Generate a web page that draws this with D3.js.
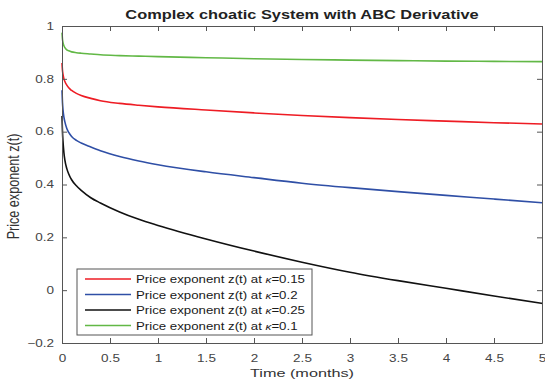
<!DOCTYPE html>
<html>
<head>
<meta charset="utf-8">
<script src="https://cdn.jsdelivr.net/npm/d3@7"></script>
<style>
  body { margin: 0; background: #fff; }
  text { font-family: "Liberation Sans", Arial, sans-serif; }
</style>
</head>
<body>
<svg id="viz" width="545" height="387"></svg>
<script>
// values
var times  = [0, 0.005, 0.01, 0.02, 0.03, 0.05, 0.07, 0.1, 0.15, 0.2, 0.3, 0.4, 0.6, 0.8, 1, 1.5, 2, 2.5, 3, 3.5, 4, 4.5, 5];
var zRed   = [0.86, 0.832, 0.818, 0.80, 0.79, 0.776, 0.766, 0.756, 0.745, 0.737, 0.726, 0.717, 0.707, 0.700, 0.694, 0.682, 0.671, 0.661, 0.653, 0.646, 0.640, 0.634, 0.629];
var zBlue  = [0.757, 0.71, 0.685, 0.655, 0.637, 0.612, 0.597, 0.582, 0.567, 0.557, 0.542, 0.528, 0.506, 0.489, 0.475, 0.448, 0.426, 0.405, 0.388, 0.373, 0.359, 0.345, 0.331];
var zBlack = [0.659, 0.60, 0.565, 0.52, 0.492, 0.46, 0.44, 0.418, 0.395, 0.378, 0.35, 0.33, 0.296, 0.268, 0.245, 0.194, 0.148, 0.106, 0.068, 0.036, 0.007, -0.022, -0.05];
var zGreen = [0.975, 0.95, 0.938, 0.925, 0.918, 0.910, 0.906, 0.902, 0.899, 0.897, 0.894, 0.891, 0.888, 0.886, 0.884, 0.880, 0.876, 0.873, 0.871, 0.869, 0.867, 0.866, 0.865];
var kappas = ["0.15", "0.2", "0.25", "0.1"];
var colors = ["#ee1c24", "#2f4fa6", "#111111", "#62b846"];
var xTicks = [0, 0.5, 1, 1.5, 2, 2.5, 3, 3.5, 4, 4.5, 5];
var yTicks = [-0.2, 0, 0.2, 0.4, 0.6, 0.8, 1];

var series = [zRed, zBlue, zBlack, zGreen].map((vals, i) => ({
  kappa: kappas[i],
  color: colors[i],
  pts: vals.map((v, j) => [times[j], v])
}));

// plot box (avoid "top", it is window.top)
var pLeft = 62, pRight = 542, pTop = 26, pBottom = 343;
var x = d3.scaleLinear().domain([0, 5]).range([pLeft, pRight]);
var y = d3.scaleLinear().domain([-0.2, 1]).range([pBottom, pTop]);

var svg = d3.select("#viz");
var axisColor = "#555";
var stretch = 1.3; // the reference looks widened horizontally

// widen text glyphs like the reference
function widen(sel, k) {
  sel.each(function () {
    var w = this.getComputedTextLength();
    d3.select(this).attr("textLength", w * (k || stretch)).attr("lengthAdjust", "spacingAndGlyphs");
  });
}

// curves
var line = d3.line().x(d => x(d[0])).y(d => y(d[1])).curve(d3.curveMonotoneX);
svg.append("g").selectAll("path")
  .data(series)
  .join("path")
  .attr("fill", "none")
  .attr("stroke", d => d.color)
  .attr("stroke-width", 1.6)
  .attr("d", d => line(d.pts));

// axes with inward ticks on all four sides
function styleAxis(g) {
  g.selectAll("path").attr("stroke", axisColor);
  g.selectAll("line").attr("stroke", axisColor);
  g.selectAll("text").attr("fill", "#444").style("font-size", "10.4px");
}
var xAx = svg.append("g").attr("transform", `translate(0,${pBottom})`)
  .call(d3.axisBottom(x).tickValues(xTicks).tickSize(-5).tickSizeOuter(0).tickPadding(12).tickFormat(d3.format("")))
  .call(styleAxis);
svg.append("g").attr("transform", `translate(0,${pTop})`)
  .call(d3.axisTop(x).tickValues(xTicks).tickSize(-5).tickSizeOuter(0).tickFormat(""))
  .call(styleAxis);
var yAx = svg.append("g").attr("transform", `translate(${pLeft},0)`)
  .call(d3.axisLeft(y).tickValues(yTicks).tickSize(-5).tickSizeOuter(0).tickPadding(8).tickFormat(d3.format("")))
  .call(styleAxis);
svg.append("g").attr("transform", `translate(${pRight},0)`)
  .call(d3.axisRight(y).tickValues(yTicks).tickSize(-5).tickSizeOuter(0).tickFormat(""))
  .call(styleAxis);
widen(xAx.selectAll("text"));
widen(yAx.selectAll("text"));

// title and axis labels
svg.append("text")
  .attr("x", (pLeft + pRight) / 2).attr("y", 19)
  .attr("text-anchor", "middle")
  .style("font-size", "12.6px").style("font-weight", "bold")
  .attr("fill", "#222")
  .text("Complex choatic System with ABC Derivative")
  .call(widen);
svg.append("text")
  .attr("x", (pLeft + pRight) / 2).attr("y", 377)
  .attr("text-anchor", "middle")
  .style("font-size", "11.8px")
  .attr("fill", "#333")
  .text("Time (months)")
  .call(s => s.attr("textLength", 104).attr("lengthAdjust", "spacingAndGlyphs"));
svg.append("text")
  .attr("transform", `translate(19,${(pTop + pBottom) / 2 + 2}) scale(${stretch},1) rotate(-90)`)
  .attr("text-anchor", "middle")
  .style("font-size", "12.6px")
  .attr("fill", "#333")
  .text("Price exponent z(t)");

// legend
var lg = svg.append("g");
lg.append("rect")
  .attr("x", 77).attr("y", 269).attr("width", 235).attr("height", 66)
  .attr("fill", "#fff").attr("stroke", axisColor).attr("stroke-width", 1);
var row = lg.selectAll("g.row").data(series).join("g")
  .attr("class", "row")
  .attr("transform", (d, i) => `translate(0,${279 + i * 15.5})`);
row.append("line")
  .attr("x1", 85).attr("x2", 131)
  .attr("stroke", d => d.color).attr("stroke-width", 1.6);
var t = row.append("text")
  .attr("transform", `translate(136,4) scale(${stretch},1)`)
  .style("font-size", "10.2px")
  .attr("fill", "#1a1a1a");
t.append("tspan").text("Price exponent z(t) at ");
t.append("tspan").style("font-style", "italic").style("font-size", "9px").text("κ");
t.append("tspan").text(d => "=" + d.kappa);
</script>
</body>
</html>
